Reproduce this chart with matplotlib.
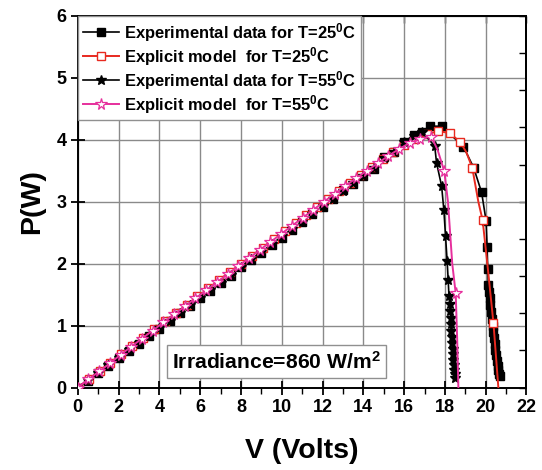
import matplotlib
matplotlib.use("Agg")
import matplotlib.pyplot as plt
import numpy as np
from matplotlib.lines import Line2D

plt.rcParams['font.family'] = ['Liberation Sans', 'DejaVu Sans']
plt.rcParams['font.weight'] = 'bold'
plt.rcParams['mathtext.fontset'] = 'custom'
plt.rcParams['mathtext.rm'] = 'Liberation Sans:bold'
plt.rcParams['mathtext.bf'] = 'Liberation Sans:bold'
plt.rcParams['mathtext.default'] = 'bf'

# ---------------- data ----------------
exp25_V = [0.0, 0.5, 1.0, 1.5, 2.0, 2.5, 3.0, 3.5, 4.0, 4.5, 5.0, 5.5, 6.0, 6.5, 7.0, 7.5,
           8.0, 8.5, 9.0, 9.5, 10.0, 10.5, 11.0, 11.5, 12.0, 12.5, 13.0, 13.5, 14.0, 14.5,
           15.0, 15.5, 16.0, 16.5, 16.9, 17.26, 17.84, 18.91, 19.41, 19.8, 20.02, 20.07,
           20.1, 20.13, 20.16, 20.2, 20.23, 20.27, 20.3, 20.34, 20.37, 20.41, 20.44, 20.48,
           20.51, 20.55, 20.58, 20.62, 20.65, 20.68]
exp25_P = [0.0, 0.11, 0.23, 0.35, 0.47, 0.59, 0.71, 0.83, 0.95, 1.08, 1.20, 1.32, 1.44, 1.56,
           1.68, 1.80, 1.94, 2.06, 2.18, 2.30, 2.42, 2.55, 2.67, 2.80, 2.92, 3.04, 3.19, 3.29,
           3.41, 3.53, 3.72, 3.80, 3.97, 4.08, 4.13, 4.22, 4.22, 3.89, 3.55, 3.15, 2.69, 2.27,
           1.91, 1.66, 1.55, 1.44, 1.33, 1.22, 1.11, 1.00, 0.90, 0.80, 0.70, 0.61, 0.52, 0.43,
           0.35, 0.28, 0.22, 0.18]

model25_V = [0.0, 0.53, 1.07, 1.6, 2.14, 2.67, 3.2, 3.74, 4.27, 4.8, 5.34, 5.87, 6.41, 6.94,
             7.47, 8.01, 8.54, 9.07, 9.61, 10.14, 10.68, 11.21, 11.74, 12.28, 12.81, 13.34,
             13.88, 14.41, 14.95, 15.48, 16.01, 16.55, 17.1, 17.68, 18.24, 18.76, 19.34,
             19.85, 20.38]
model25_P = [0.0, 0.13, 0.27, 0.40, 0.54, 0.67, 0.80, 0.94, 1.07, 1.20, 1.34, 1.47, 1.60,
             1.74, 1.87, 2.00, 2.13, 2.26, 2.40, 2.53, 2.66, 2.79, 2.92, 3.05, 3.18, 3.31,
             3.44, 3.56, 3.69, 3.81, 3.92, 4.02, 4.09, 4.14, 4.11, 3.96, 3.55, 2.70, 1.04]
# extra points of the smooth model curve (line only)
model25_curve_V = [19.05, 19.64, 20.08, 20.5, 20.62]
model25_curve_P = [3.80, 3.00, 2.00, 0.52, 0.0]

exp55_V = [0.0, 0.5, 1.0, 1.5, 2.0, 2.5, 3.0, 3.5, 4.0, 4.5, 5.0, 5.5, 6.0, 6.5, 7.0, 7.5,
           8.0, 8.5, 9.0, 9.5, 10.0, 10.5, 11.0, 11.5, 12.0, 12.5, 13.0, 13.5, 14.0, 14.5,
           15.0, 15.5, 16.0, 16.5, 16.9, 17.5, 17.59, 17.84, 17.95, 18.03, 18.11, 18.16,
           18.2, 18.23, 18.25, 18.28, 18.3, 18.32, 18.34, 18.36, 18.38, 18.4, 18.42, 18.44,
           18.46, 18.48, 18.5]
exp55_P = [0.0, 0.12, 0.24, 0.36, 0.48, 0.60, 0.72, 0.84, 0.96, 1.08, 1.20, 1.33, 1.45, 1.57,
           1.69, 1.81, 1.95, 2.07, 2.19, 2.31, 2.44, 2.56, 2.68, 2.81, 2.93, 3.05, 3.18, 3.30,
           3.42, 3.54, 3.70, 3.81, 3.96, 4.06, 4.12, 3.90, 3.63, 3.25, 2.86, 2.45, 2.04, 1.74,
           1.47, 1.35, 1.24, 1.13, 1.02, 0.92, 0.82, 0.72, 0.63, 0.54, 0.45, 0.37, 0.29, 0.22,
           0.16]

model55_V = [0.0, 0.52, 1.05, 1.57, 2.1, 2.62, 3.15, 3.67, 4.2, 4.72, 5.25, 5.77, 6.3, 6.82,
             7.35, 7.87, 8.4, 8.92, 9.45, 9.97, 10.5, 11.02, 11.55, 12.07, 12.6, 13.12, 13.65,
             14.17, 14.7, 15.22, 15.75, 16.27, 16.8, 17.34, 17.97, 18.53]
model55_P = [0.0, 0.13, 0.26, 0.39, 0.53, 0.66, 0.79, 0.92, 1.05, 1.18, 1.31, 1.44, 1.57,
             1.70, 1.83, 1.96, 2.09, 2.22, 2.35, 2.48, 2.61, 2.74, 2.87, 3.00, 3.13, 3.26,
             3.38, 3.50, 3.62, 3.74, 3.85, 3.95, 4.02, 4.05, 3.49, 1.52]
model55_curve_V = [17.65, 18.15, 18.36, 18.6, 18.66]
model55_curve_P = [3.83, 3.00, 2.00, 0.80, 0.0]

labels = ["Experimental data for T=25$^0$C",
          "Explicit model  for T=25$^0$C",
          "Experimental data for T=55$^0$C",
          "Explicit model  for T=55$^0$C"]
annotation = "Irradiance=860 W/m$^2$"

red = '#e8291f'
pink = '#e62f9c'

# ---------------- figure ----------------
fig = plt.figure(figsize=(5.42, 4.70), dpi=100)
ax = fig.add_axes([0.1434, 0.1755, 0.828, 0.7905])


def merged(v, p, cv, cp):
    pts = sorted(zip(list(v) + list(cv), list(p) + list(cp)))
    return [a for a, b in pts], [b for a, b in pts]


ax.plot(exp25_V, exp25_P, color='black', lw=1.2, marker='s', ms=5.5,
        mfc='black', mec='black', zorder=3)
l25v, l25p = merged(model25_V, model25_P, model25_curve_V, model25_curve_P)
ax.plot(l25v, l25p, color=red, lw=1.4, zorder=4)
ax.plot(model25_V, model25_P, ls='none', marker='s', ms=6, mfc='white', mec=red,
        mew=1.0, zorder=4)
ax.plot(exp55_V, exp55_P, color='black', lw=1.2, marker='*', ms=7.5,
        mfc='black', mec='black', zorder=5)
l55v, l55p = merged(model55_V, model55_P, model55_curve_V, model55_curve_P)
ax.plot(l55v, l55p, color=pink, lw=1.4, zorder=6)
ax.plot(model55_V, model55_P, ls='none', marker='*', ms=8.5, mfc='white', mec=pink,
        mew=0.9, zorder=6)

handles = [
    Line2D([], [], color='black', lw=1.2, marker='s', ms=5.5, mfc='black'),
    Line2D([], [], color=red, lw=1.4, marker='s', ms=6, mfc='white', mec=red),
    Line2D([], [], color='black', lw=1.2, marker='*', ms=7.5, mfc='black'),
    Line2D([], [], color=pink, lw=1.4, marker='*', ms=8.5, mfc='white', mec=pink, mew=0.9),
]
leg = ax.legend(handles, labels, loc='upper left', borderaxespad=0, fontsize=11.9,
                handlelength=2.2, handletextpad=0.3, labelspacing=0.06,
                borderpad=0.3, fancybox=False, framealpha=1, edgecolor='#909090')
leg.get_frame().set_linewidth(1.0)
leg.set_zorder(10)

ax.text(9.75, 0.42, annotation, ha='center', va='center', fontsize=15.2,
        fontweight='bold', zorder=10,
        bbox=dict(boxstyle='square,pad=0.25', fc='white', ec='#909090', lw=1.0))

ax.set_xlim(0, 22)
ax.set_ylim(0, 6)
ax.set_xticks(np.arange(0, 23, 2))
ax.set_xticks(np.arange(0, 23, 1), minor=True)
ax.set_yticks(np.arange(0, 7, 1))
ax.set_yticks(np.arange(0, 6.01, 0.5), minor=True)
ax.grid(True, which='major', color='#8a8a8a', lw=1.0, zorder=0)
ax.set_axisbelow(True)
ax.tick_params(which='major', direction='inout', length=10, width=1.3, labelsize=13,
               pad=3)
ax.tick_params(which='minor', direction='out', length=4, width=1.0)
ax.tick_params(axis='y', which='minor', length=0)

sx = ax.secondary_xaxis('top')
sx.set_xticks(np.arange(0, 23, 2))
sx.tick_params(direction='in', length=5, width=1.0, labeltop=False)
sy = ax.secondary_yaxis('right')
sy.set_yticks(np.arange(0, 6.01, 0.6))
sy.tick_params(direction='in', length=5, width=1.0, labelright=False)
for s in list(ax.spines.values()):
    s.set_linewidth(1.4)
sx.spines['top'].set_linewidth(1.4)
sy.spines['right'].set_linewidth(1.4)

ax.set_xlabel('V (Volts)', fontsize=20.5, fontweight='bold', labelpad=16)
ax.set_ylabel('P(W)', fontsize=20.5, fontweight='bold', labelpad=8)

fig.savefig('out.png', dpi=100)
